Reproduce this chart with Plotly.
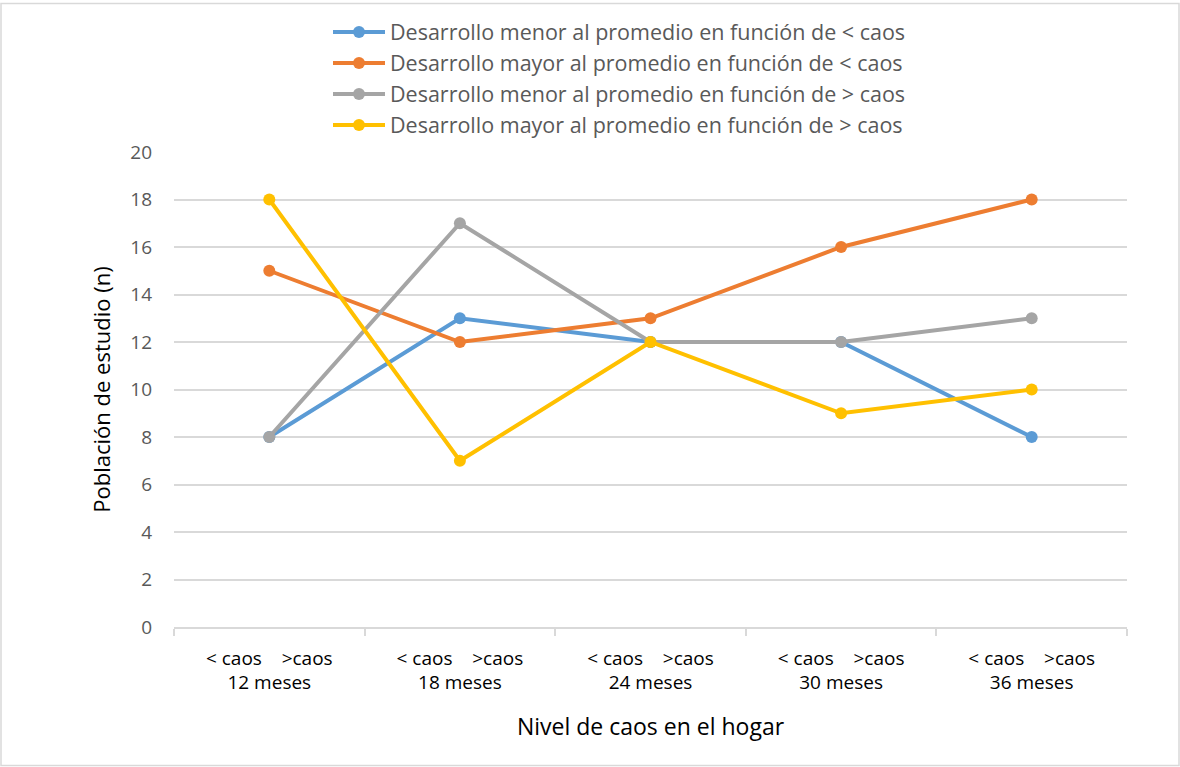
import plotly.graph_objects as go

categories = ["12 meses", "18 meses", "24 meses", "30 meses", "36 meses"]
sub_labels = "< caos    >caos"
series_names = [
    "Desarrollo menor al promedio en función de < caos",
    "Desarrollo mayor al promedio en función de < caos",
    "Desarrollo menor al promedio en función de > caos",
    "Desarrollo mayor al promedio en función de > caos",
]
menor_menos = [8, 13, 12, 12, 8]
mayor_menos = [15, 12, 13, 16, 18]
menor_mas = [8, 17, 12, 12, 13]
mayor_mas = [18, 7, 12, 9, 10]
colors = ["#5B9BD5", "#ED7D31", "#A5A5A5", "#FFC000"]
y_ticks = [0, 2, 4, 6, 8, 10, 12, 14, 16, 18, 20]

xpos = [i + 0.5 for i in range(len(categories))]
tick_text = [f"{sub_labels}<br>{c}" for c in categories]

fig = go.Figure()
for name, vals, col in zip(series_names, [menor_menos, mayor_menos, menor_mas, mayor_mas], colors):
    fig.add_trace(go.Scatter(
        x=xpos, y=vals, name=name, mode="lines+markers",
        line=dict(color=col, width=4),
        marker=dict(color=col, size=12),
    ))

FONT = "Open Sans"
fig.update_layout(
    width=1180, height=767,
    margin=dict(l=174, r=53, t=150, b=140),
    paper_bgcolor="white", plot_bgcolor="white",
    font=dict(family=FONT, size=19, color="#000000"),
    showlegend=True,
    legend=dict(
        x=(328 - 174) / 953, xanchor="left", y=1 + 141 / 477, yanchor="top",
        orientation="v",
        font=dict(size=21.5, color="#595959"),
        itemwidth=52, tracegroupgap=0,
    ),
    xaxis=dict(
        range=[0, 5], tickmode="array", tickvals=xpos, ticktext=tick_text,
        ticks="", showgrid=False, zeroline=False,
        showline=True, linecolor="#D9D9D9", linewidth=1.5,
        tickfont=dict(size=19, color="#000000"),
        ticklabelstandoff=13,
        minor=dict(tickmode="linear", tick0=0, dtick=1, ticks="outside",
                   ticklen=7, tickcolor="#D9D9D9", tickwidth=1.5, showgrid=False),
        title=dict(text="Nivel de caos en el hogar", font=dict(size=23, color="#000000"), standoff=25),
    ),
    yaxis=dict(
        range=[0, 20], tickmode="array", tickvals=y_ticks,
        showgrid=True, gridcolor="#D9D9D9", gridwidth=1.5,
        zeroline=False, showline=False, ticks="",
        ticklabelstandoff=21,
        tickfont=dict(size=19, color="#595959"),
        title=dict(text="Población de estudio (n)", font=dict(size=22, color="#000000"), standoff=13),
    ),
)

fig.add_shape(type="rect", xref="paper", yref="paper",
              x0=-173 / 953, x1=1 + 52 / 953, y0=-139 / 477, y1=1 + 149 / 477,
              line=dict(color="#D9D9D9", width=1.5), fillcolor="rgba(0,0,0,0)", layer="below")

fig.write_html("out.html", config={"displayModeBar": False},
               post_script="document.body.style.margin='0';document.body.style.padding='0';")
